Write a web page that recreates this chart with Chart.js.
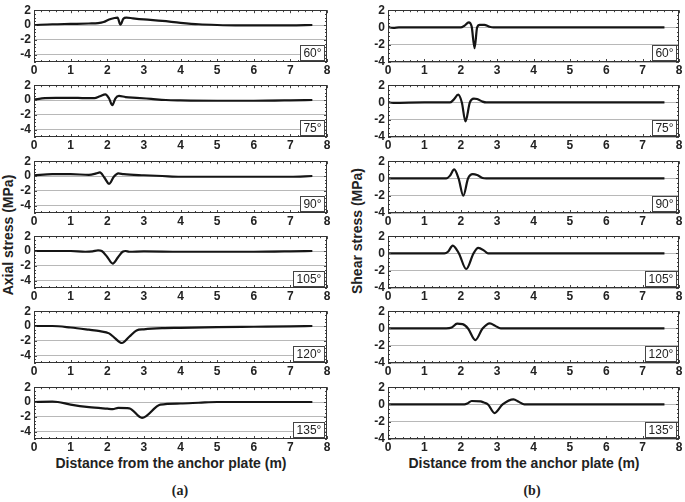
<!DOCTYPE html>
<html>
<head>
<meta charset="utf-8">
<script src="https://cdn.jsdelivr.net/npm/chart.js@4.4.1/dist/chart.umd.min.js"></script>
<style>
  html, body { margin:0; padding:0; background:#fff; }
  body { width:685px; height:502px; position:relative; overflow:hidden; font-family:"Liberation Sans", Arial, sans-serif; color:#222; }
  canvas { position:absolute; }
  .ytitle { position:absolute; width:220px; height:18px; line-height:18px; text-align:center; font-weight:bold; font-size:14px; transform:rotate(-90deg); }
  .xtitle { position:absolute; width:300px; height:18px; line-height:18px; text-align:center; font-weight:bold; font-size:14px; }
  .sub { position:absolute; width:40px; text-align:center; font-family:"Liberation Serif", "Times New Roman", serif; font-weight:bold; font-size:14px; }
</style>
</head>
<body>
<div class="ytitle" style="left:-102px; top:226px;">Axial stress (MPa)</div>
<div class="ytitle" style="left:247px; top:222px;">Shear stress (MPa)</div>
<div class="xtitle" style="left:21px; top:454px;">Distance from the anchor plate (m)</div>
<div class="xtitle" style="left:374px; top:454px;">Distance from the anchor plate (m)</div>
<div class="sub" style="left:160px; top:483px;">(a)</div>
<div class="sub" style="left:512px; top:483px;">(b)</div>
<script>
// ---------- data ----------
const angleLabels = ['60°', '75°', '90°', '105°', '120°', '135°'];
const xTickValues = [0, 1, 2, 3, 4, 5, 6, 7, 8];
const axialTicks = [2, 0, -2, -4];
const shearTicks = [2, 0, -2, -4];

// Axial stress (a)
const axial60X = [0, 0.5, 1.0, 1.5, 1.75, 1.9, 2.05, 2.2, 2.28, 2.36, 2.44, 2.52, 2.7, 3.0, 3.5, 4.0, 4.5, 5.0, 5.5, 6.0, 7.0, 7.6];
const axial60Y = [0, 0.1, 0.15, 0.2, 0.25, 0.4, 0.75, 0.95, 1.0, 0.05, 0.85, 1.0, 0.9, 0.75, 0.55, 0.3, 0.1, 0, -0.05, -0.05, -0.05, 0];
const axial75X = [0, 0.3, 0.6, 1.0, 1.4, 1.65, 1.8, 1.95, 2.05, 2.14, 2.22, 2.32, 2.5, 2.8, 3.2, 3.6, 4.0, 5.0, 6.0, 7.0, 7.6];
const axial75Y = [0.05, 0.25, 0.3, 0.3, 0.25, 0.25, 0.5, 0.75, 0.2, -0.7, 0.2, 0.55, 0.4, 0.3, 0.15, 0.0, -0.05, -0.1, -0.1, -0.05, 0];
const axial90X = [0, 0.5, 1.0, 1.5, 1.7, 1.8, 1.92, 2.05, 2.18, 2.3, 2.45, 3.0, 3.5, 4.0, 5.0, 6.0, 7.0, 7.6];
const axial90Y = [0.1, 0.25, 0.25, 0.15, 0.35, 0.5, -0.2, -1.05, -0.1, 0.35, 0.25, 0.1, 0, -0.1, -0.1, -0.1, -0.1, 0];
const axial105X = [0, 0.5, 1.0, 1.4, 1.6, 1.75, 1.85, 2.0, 2.15, 2.3, 2.42, 2.5, 2.6, 3.0, 4.0, 5.0, 6.0, 7.0, 7.6];
const axial105Y = [0, 0, 0, -0.1, -0.05, 0.1, 0, -0.8, -1.7, -0.8, -0.1, 0, -0.1, -0.05, -0.1, -0.1, -0.1, -0.05, 0];
const axial120X = [0, 0.5, 1.0, 1.5, 1.8, 2.05, 2.2, 2.4, 2.6, 2.8, 3.0, 3.5, 4.0, 5.0, 6.0, 7.0, 7.6];
const axial120Y = [0, 0, -0.2, -0.5, -0.7, -1.0, -1.6, -2.3, -1.45, -0.6, -0.45, -0.3, -0.25, -0.15, -0.1, -0.05, 0];
const axial135X = [0, 0.5, 0.65, 1.0, 1.5, 2.0, 2.15, 2.3, 2.6, 2.95, 3.45, 4.0, 4.5, 5.0, 6.0, 7.0, 7.6];
const axial135Y = [0, 0.05, 0, -0.35, -0.7, -0.9, -0.95, -0.8, -0.85, -2.15, -0.35, -0.2, -0.1, 0, 0, 0, 0];

// Shear stress (b)
const shear60X = [0, 0.05, 0.15, 0.3, 1.0, 2.0, 2.1, 2.22, 2.3, 2.38, 2.45, 2.52, 2.65, 2.78, 2.9, 4.0, 5.0, 6.0, 7.0, 7.6];
const shear60Y = [0.15, 0, -0.05, 0, 0, 0, 0.2, 0.6, 0.1, -2.4, 0, 0.3, 0.3, 0.1, 0, 0, 0, 0, 0, 0];
const shear75X = [0, 0.05, 0.15, 1.0, 1.7, 1.8, 1.93, 2.03, 2.13, 2.25, 2.36, 2.45, 2.6, 2.7, 4.0, 7.6];
const shear75Y = [0.1, 0, -0.05, 0, 0, 0.3, 0.9, 0, -2.2, 0, 0.45, 0.4, 0.1, 0, 0, 0];
const shear90X = [0, 1.0, 1.6, 1.7, 1.82, 1.94, 2.07, 2.2, 2.33, 2.45, 2.6, 2.7, 4.0, 7.6];
const shear90Y = [0, 0, 0, 0.3, 1.05, 0, -2.0, 0, 0.5, 0.4, 0.05, 0, 0, 0];
const shear105X = [0, 1.0, 1.55, 1.65, 1.78, 1.95, 2.15, 2.35, 2.48, 2.65, 2.75, 4.0, 7.6];
const shear105Y = [0, 0, 0, 0.2, 0.9, 0, -1.8, 0, 0.65, 0.3, 0, 0, 0];
const shear120X = [0, 1.0, 1.6, 1.75, 1.9, 2.05, 2.2, 2.4, 2.6, 2.8, 2.95, 3.1, 4.0, 7.6];
const shear120Y = [0, 0, 0, 0.1, 0.55, 0.5, 0, -1.35, 0, 0.6, 0.3, 0, 0, 0];
const shear135X = [0, 1.0, 2.1, 2.18, 2.3, 2.55, 2.62, 2.75, 2.93, 3.15, 3.45, 3.6, 3.75, 4.0, 7.6];
const shear135Y = [0, 0, 0, 0.1, 0.4, 0.35, 0.25, 0, -1.0, 0, 0.6, 0.3, 0, 0, 0];

const axialX = [axial60X, axial75X, axial90X, axial105X, axial120X, axial135X];
const axialY = [axial60Y, axial75Y, axial90Y, axial105Y, axial120Y, axial135Y];
const shearX = [shear60X, shear75X, shear90X, shear105X, shear120X, shear135X];
const shearY = [shear60Y, shear75Y, shear90Y, shear105Y, shear120Y, shear135Y];

// ---------- drawing ----------
const FONT = '"Liberation Sans", Arial, sans-serif';

const framePlugin = {
  id: 'panelFrame',
  afterDraw(chart, args, opts) {
    const {ctx, chartArea: a, scales} = chart;
    ctx.save();
    // minor ticks
    ctx.strokeStyle = '#444';
    ctx.lineWidth = 1;
    ctx.beginPath();
    for (let v = 0; v <= 8.0001; v += 0.2) {
      const px = Math.round(scales.x.getPixelForValue(v)) + 0.5;
      const len = Math.abs(v - Math.round(v)) < 1e-6 ? 3 : 2;
      ctx.moveTo(px, a.top); ctx.lineTo(px, a.top + len);
      ctx.moveTo(px, a.bottom); ctx.lineTo(px, a.bottom - len);
    }
    for (let v = scales.y.min; v <= scales.y.max + 1e-6; v += 0.5) {
      const py = Math.round(scales.y.getPixelForValue(v)) + 0.5;
      const len = Math.abs(v / 2 - Math.round(v / 2)) < 1e-6 ? 3 : 2;
      ctx.moveTo(a.left, py); ctx.lineTo(a.left + len, py);
      ctx.moveTo(a.right, py); ctx.lineTo(a.right - len, py);
    }
    ctx.stroke();
    // frame
    ctx.strokeStyle = '#333';
    ctx.strokeRect(Math.round(a.left) + 0.5, Math.round(a.top) + 0.5, Math.round(a.right - a.left) - 1, Math.round(a.bottom - a.top) - 1);
    // angle label
    ctx.font = '12px ' + FONT;
    const tw = ctx.measureText(opts.label).width;
    const w = Math.round(tw + 6), h = 15;
    const bx = Math.round(a.right) - 3 - w, by = Math.round(a.bottom) - 2 - h;
    ctx.fillStyle = '#fff';
    ctx.fillRect(bx, by, w, h);
    ctx.strokeStyle = '#444';
    ctx.strokeRect(bx + 0.5, by + 0.5, w, h);
    ctx.fillStyle = '#222';
    ctx.textAlign = 'center';
    ctx.textBaseline = 'middle';
    ctx.fillText(opts.label, bx + w / 2 + 0.5, by + h / 2 + 1);
    ctx.restore();
  }
};

function makePanel(left, top, yAxisWidth, rightPad, xs, ys, yMin, yMax, yTicks, label) {
  const cv = document.createElement('canvas');
  cv.width = 340; cv.height = 82;
  cv.style.left = left + 'px'; cv.style.top = top + 'px';
  cv.style.width = '340px'; cv.style.height = '82px';
  document.body.appendChild(cv);
  new Chart(cv.getContext('2d'), {
    type: 'line',
    data: { datasets: [{
      data: xs.map((x, i) => ({ x: x, y: ys[i] })),
      borderColor: '#151515', borderWidth: 2.2, pointRadius: 0,
      cubicInterpolationMode: 'monotone', fill: false
    }]},
    options: {
      responsive: false, animation: false, events: [], devicePixelRatio: 1,
      layout: { padding: { top: 6, right: rightPad, left: 0, bottom: 0 } },
      plugins: { legend: { display: false }, tooltip: { enabled: false }, panelFrame: { label: label } },
      scales: {
        x: {
          type: 'linear', min: 0, max: 8,
          afterBuildTicks: s => { s.ticks = xTickValues.map(v => ({ value: v })); },
          afterFit: s => { s.height = 20; },
          grid: { display: false, drawTicks: false }, border: { display: false },
          ticks: { padding: 1, maxRotation: 0, autoSkip: false, color: '#222', font: { family: FONT, size: 12, weight: 'bold' } }
        },
        y: {
          type: 'linear', min: yMin, max: yMax,
          afterBuildTicks: s => { s.ticks = yTicks.map(v => ({ value: v })); },
          afterFit: s => { s.width = yAxisWidth; },
          grid: { color: '#b8b8b8', lineWidth: 1, drawTicks: false }, border: { display: false },
          ticks: { padding: 3, autoSkip: false, color: '#222', font: { family: FONT, size: 12, weight: 'bold' } }
        }
      }
    },
    plugins: [framePlugin]
  });
}

for (let i = 0; i < 6; i++) {
  const T = Math.round(6 + 75.3 * i);
  makePanel(0, T - 6, 34, 13, axialX[i], axialY[i], -5, 2, axialTicks, angleLabels[i]);
  makePanel(345, T - 6, 43, 6, shearX[i], shearY[i], -4, 2, shearTicks, angleLabels[i]);
}
</script>
</body>
</html>
